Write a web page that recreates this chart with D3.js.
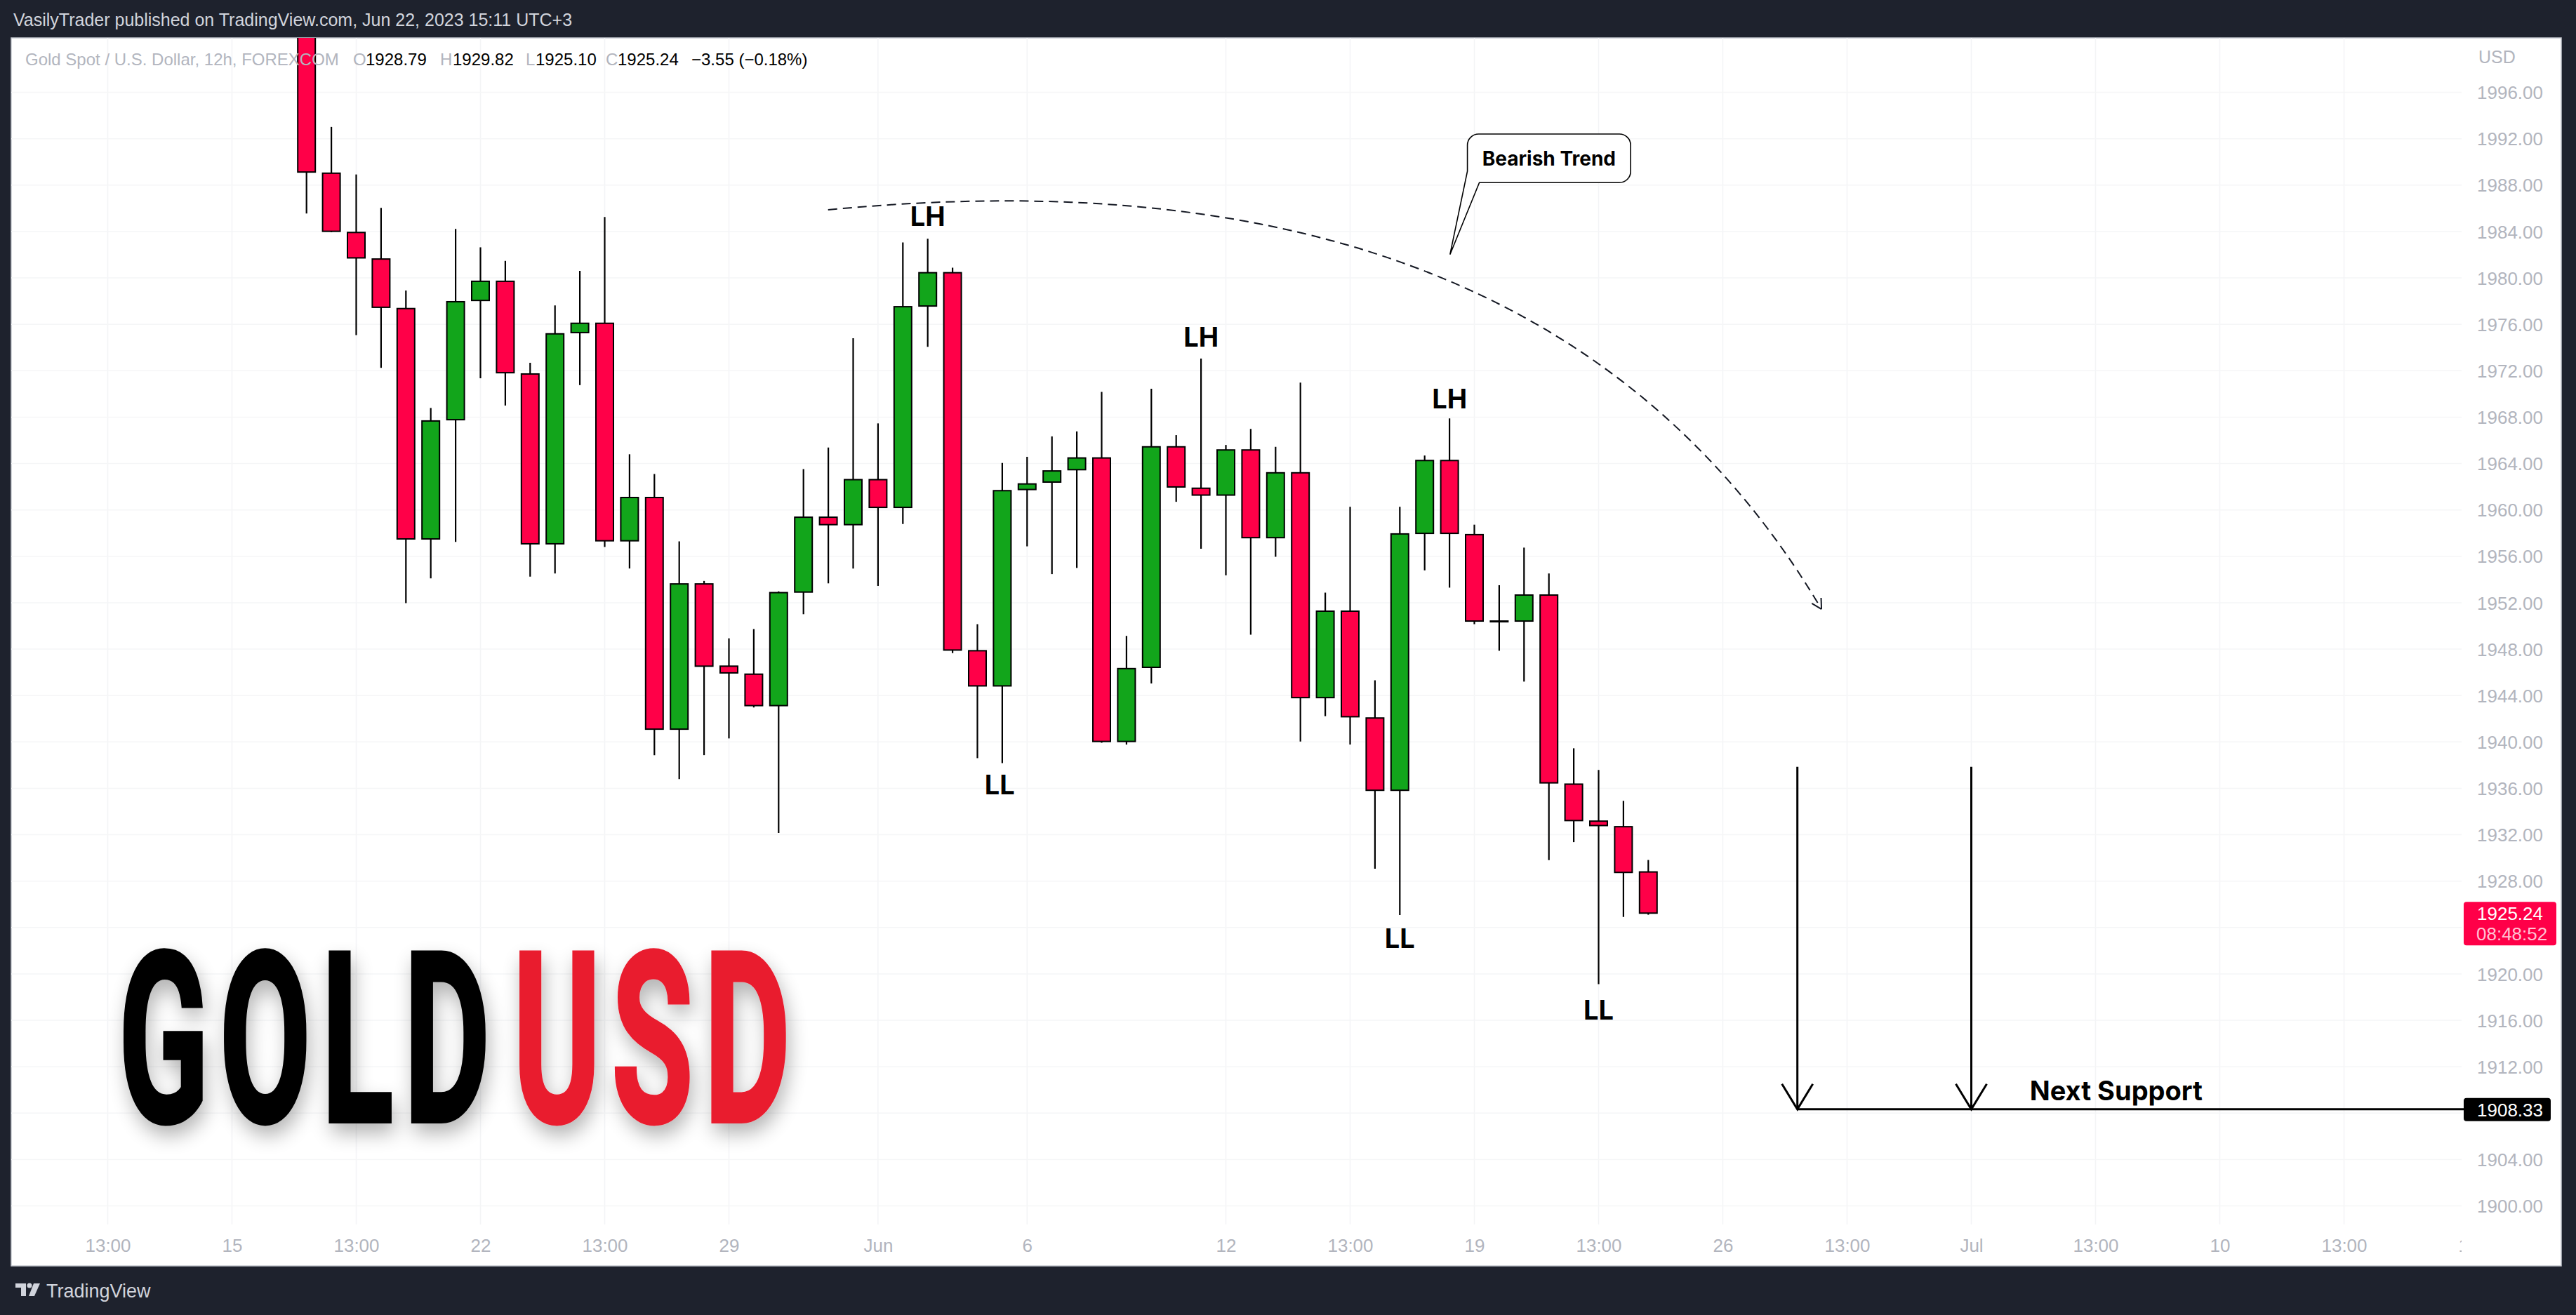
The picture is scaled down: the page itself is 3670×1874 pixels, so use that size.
<!DOCTYPE html>
<html><head><meta charset="utf-8">
<script src="https://cdn.jsdelivr.net/npm/d3@7"></script>
<style>html,body{margin:0;padding:0;background:#1e222d;overflow:hidden}svg{display:block}</style>
</head><body>
<svg id="c" width="3670" height="1874"></svg>
<script>
// ---------------- data ----------------
const firstBar = 3; // bar index of first visible candle (12h bars, index 0 = May 15 01:00)
const opens  = [2005.50,1989.03,1983.92,1981.63,1977.36,1957.50,1967.78,1978.06,1979.71,1971.72,1957.08,1975.29,1976.09,1957.34,1961.07,1941.10,1953.62,1946.53,1945.84,1943.13,1952.92,1959.37,1958.73,1962.61,1960.22,1977.58,1980.45,1947.86,1944.83,1961.76,1962.40,1963.47,1964.48,1940.04,1946.43,1965.44,1961.87,1961.28,1965.17,1957.61,1963.20,1943.82,1951.27,1942.06,1935.83,1957.98,1964.26,1957.87,1950.42,1950.42,1952.66,1936.36,1933.17,1932.69,1928.79];
const highs  = [2008.00,1993.02,1988.92,1986.04,1978.91,1968.79,1984.23,1982.64,1981.47,1972.68,1977.63,1980.61,1985.25,1964.80,1963.09,1957.29,1953.88,1948.93,1949.73,1952.98,1963.52,1965.38,1974.81,1967.46,1983.06,1983.38,1980.88,1950.15,1964.05,1964.58,1966.34,1966.77,1970.18,1949.14,1970.44,1966.45,1973.05,1965.60,1966.98,1965.44,1970.97,1952.87,1960.27,1945.31,1960.27,1964.69,1967.89,1958.73,1953.51,1956.75,1954.52,1939.45,1937.59,1934.92,1929.82];
const lows   = [1985.56,1983.95,1975.07,1972.25,1951.97,1954.10,1957.24,1971.35,1969.00,1954.25,1954.52,1970.76,1956.81,1954.95,1938.86,1936.79,1938.86,1940.30,1942.97,1932.15,1951.01,1953.67,1954.95,1953.45,1958.78,1974.06,1947.65,1938.60,1938.17,1956.86,1954.47,1955.00,1939.93,1939.77,1945.04,1960.70,1956.65,1954.36,1949.25,1955.96,1940.04,1942.22,1939.77,1929.07,1925.07,1954.79,1953.30,1950.15,1947.86,1945.20,1929.81,1931.36,1919.11,1924.91,1925.10];
const closes = [1989.13,1984.02,1981.73,1977.47,1957.50,1967.67,1977.95,1979.71,1971.83,1957.08,1975.18,1976.09,1957.34,1961.07,1941.10,1953.62,1946.53,1945.95,1943.13,1952.87,1959.37,1958.73,1962.61,1960.22,1977.52,1980.45,1947.92,1944.83,1961.66,1962.24,1963.36,1964.48,1940.04,1946.32,1965.44,1961.98,1961.28,1965.17,1957.61,1963.20,1943.82,1951.27,1942.17,1935.83,1957.93,1964.26,1957.98,1950.42,1950.42,1952.66,1936.47,1933.22,1932.79,1928.75,1925.24];

const timeTickIdx    = [-5, 0, 5, 10, 15, 20, 26, 32, 40, 45, 50, 55, 60, 65, 70, 75, 80, 85, 90];
const timeTickLabels = ["13:00","15","13:00","22","13:00","29","Jun","6","12","13:00","19","13:00","26","13:00","Jul","13:00","10","13:00","17"];
const priceTicks = d3.range(1900, 1997, 4);

const lastPrice = 1925.24, lastTimer = "08:48:52";
const supportPrice = 1908.33;

const headerText = "VasilyTrader published on TradingView.com, Jun 22, 2023 15:11 UTC+3";
const symbolText = "Gold Spot / U.S. Dollar, 12h, FOREXCOM";
const legendKeys = ["O","H","L","C"];
const legendValues = ["1928.79","1929.82","1925.10","1925.24"];
const legendChange = "\u22123.55 (\u22120.18%)";

// swing labels: [label, bar index, price]
const swingLabels = [["LH",28,1985.3],["LL",30.9,1936.3],["LH",39,1974.9],["LH",49,1969.6],["LL",47,1923.1],["LL",55,1916.9]];
// curve (bar index, price): start, control, end
const curvePts = [[23.99,1985.87],[52.81,1991.86],[63.97,1951.45]];
// callout box [i0,i1,pTop,pBottom], tail [[i,p]...]
const calloutBox = [49.72,56.29,1992.41,1988.22];
const calloutTail = [[49.73,1989.2],[49.02,1982.02],[50.2,1988.22]];
const calloutText = "Bearish Trend";
const arrowIdx = [63, 70];
const arrowTopPrice = 1937.85;
const supportText = ["Next Support", 75.83, 1909.95];
const watermark = [["GOLD", 169, 698, "#000000"], ["USD", 731, 1126, "#e91c2e"]];

// ---------------- layout ----------------
const W = 3670, H = 1874;
const paneL = 16, paneR = 3649, paneT = 54, paneB = 1804;
const chartR = 3507, chartB = 1745;
const red = "#ff0048", green = "#12a51b";

const svg = d3.select("#c");
const x = d3.scaleLinear().domain([0, 80]).range([330.5, 3162.5]);
const y = d3.scaleLinear().domain([1900, 1996]).range([1718.5, 131.6]);

svg.append("rect").attr("width", W).attr("height", H).attr("fill", "#1e222d");
svg.append("rect").attr("x", paneL).attr("y", paneT).attr("width", paneR - paneL).attr("height", paneB - paneT)
  .attr("fill", "#ffffff").attr("stroke", "#c4c7ce").attr("stroke-width", 1.5);

const defs = svg.append("defs");
defs.append("clipPath").attr("id", "clip").append("rect")
  .attr("x", paneL).attr("y", paneT).attr("width", chartR - paneL).attr("height", chartB - paneT);
defs.append("clipPath").attr("id", "clipT").append("rect")
  .attr("x", paneL).attr("y", chartB).attr("width", chartR - paneL).attr("height", paneB - chartB);
const f = defs.append("filter").attr("id", "shadow").attr("filterUnits", "userSpaceOnUse")
  .attr("x", 100).attr("y", 1280).attr("width", 1150).attr("height", 420);
f.append("feGaussianBlur").attr("in", "SourceAlpha").attr("stdDeviation", 14).attr("result", "b");
f.append("feOffset").attr("in", "b").attr("dx", 4).attr("dy", 14).attr("result", "o");
f.append("feComponentTransfer").attr("in", "o").attr("result", "o2").append("feFuncA").attr("type", "linear").attr("slope", 0.3);
const fm = f.append("feMerge"); fm.append("feMergeNode").attr("in", "o2"); fm.append("feMergeNode").attr("in", "SourceGraphic");

// grid
const grid = svg.append("g").attr("clip-path", "url(#clip)");
grid.selectAll("line.v").data(timeTickIdx).join("line").attr("class", "v")
  .attr("x1", d => x(d)).attr("x2", d => x(d)).attr("y1", paneT).attr("y2", chartB)
  .attr("stroke", "#f3f4f6").attr("stroke-width", 1.5);
grid.selectAll("line.h").data(priceTicks).join("line").attr("class", "h")
  .attr("x1", paneL).attr("x2", chartR).attr("y1", d => y(d)).attr("y2", d => y(d))
  .attr("stroke", "#f5f6f7").attr("stroke-width", 1.5);

// watermark GOLDUSD (condensed by horizontal scaling)
const wm = svg.append("g").attr("filter", "url(#shadow)");
const LS = 28;
watermark.forEach(([word, l, r, col]) => {
  const t = wm.append("text").attr("x", 0).attr("y", 0)
    .attr("font-family", "Roboto, 'Liberation Sans', sans-serif").attr("font-weight", 700)
    .attr("font-size", 338).attr("fill", col).attr("stroke", col).attr("stroke-width", 5)
    .attr("vector-effect", "non-scaling-stroke").attr("letter-spacing", LS).text(word);
  const bb = t.node().getBBox();
  const natural = bb.width - LS;
  const sx = (r - l) / natural;
  t.attr("transform", `translate(${l - bb.x * sx},1598) scale(${sx},1)`);
});

// candles
const bars = opens.map((o, k) => ({i: firstBar + k, o, h: highs[k], l: lows[k], c: closes[k]}));
const cg = svg.append("g").attr("clip-path", "url(#clip)");
const bw = 25;
cg.selectAll("line.wick").data(bars).join("line").attr("class", "wick")
  .attr("x1", d => x(d.i)).attr("x2", d => x(d.i))
  .attr("y1", d => y(d.h)).attr("y2", d => y(d.l))
  .attr("stroke", "#000").attr("stroke-width", 2.2);
cg.selectAll("rect.body").data(bars).join("rect").attr("class", "body")
  .attr("x", d => x(d.i) - bw / 2).attr("width", bw)
  .attr("y", d => y(Math.max(d.o, d.c))).attr("height", d => Math.max(1, Math.abs(y(d.o) - y(d.c))))
  .attr("fill", d => d.c >= d.o ? green : red).attr("stroke", "#000").attr("stroke-width", 2);

// annotations
const ann = svg.append("g").attr("clip-path", "url(#clip)");
const curve = d3.path();
curve.moveTo(x(curvePts[0][0]), y(curvePts[0][1]));
curve.quadraticCurveTo(x(curvePts[1][0]), y(curvePts[1][1]), x(curvePts[2][0]), y(curvePts[2][1]));
ann.append("path").attr("d", curve.toString()).attr("fill", "none")
  .attr("stroke", "#131722").attr("stroke-width", 2).attr("stroke-dasharray", "13 8");
{
  const ex = x(curvePts[2][0]), ey = y(curvePts[2][1]);
  const dx = ex - x(curvePts[1][0]), dy = ey - y(curvePts[1][1]);
  const a = Math.atan2(dy, dx), L = 16;
  [0.5, -0.5].forEach(s => {
    ann.append("line").attr("x1", ex).attr("y1", ey)
      .attr("x2", ex - L * Math.cos(a + s)).attr("y2", ey - L * Math.sin(a + s))
      .attr("stroke", "#131722").attr("stroke-width", 2);
  });
}
// callout
{
  const [i0, i1, pt, pb] = calloutBox;
  const bx0 = x(i0), bx1 = x(i1), by0 = y(pt), by1 = y(pb), r = 16;
  const t = calloutTail.map(([i, p]) => [x(i), y(p)]);
  const p = d3.path();
  p.moveTo(bx0 + r, by0);
  p.lineTo(bx1 - r, by0); p.arcTo(bx1, by0, bx1, by0 + r, r);
  p.lineTo(bx1, by1 - r); p.arcTo(bx1, by1, bx1 - r, by1, r);
  p.lineTo(t[2][0], by1); p.lineTo(t[1][0], t[1][1]); p.lineTo(bx0, t[0][1]);
  p.lineTo(bx0, by0 + r); p.arcTo(bx0, by0, bx0 + r, by0, r); p.closePath();
  ann.append("path").attr("d", p.toString()).attr("fill", "#fff").attr("stroke", "#000").attr("stroke-width", 1.6);
  ann.append("text").attr("x", (bx0 + bx1) / 2).attr("y", (by0 + by1) / 2 + 10)
    .attr("text-anchor", "middle").attr("font-family", "Inter, 'Liberation Sans', sans-serif")
    .attr("font-weight", 700).attr("font-size", 28).attr("fill", "#000").text(calloutText);
}
// swing labels
ann.selectAll("text.sw").data(swingLabels).join("text").attr("class", "sw")
  .attr("x", d => x(d[1])).attr("y", d => y(d[2]) + 14)
  .attr("text-anchor", "middle").attr("font-family", "Inter, 'Liberation Sans', sans-serif")
  .attr("font-weight", 700).attr("font-size", 38).attr("fill", "#000").text(d => d[0]);
// vertical arrows
arrowIdx.forEach(i => {
  const ax = x(i), y0 = y(arrowTopPrice), y1 = y(supportPrice);
  ann.append("line").attr("x1", ax).attr("x2", ax).attr("y1", y0).attr("y2", y1).attr("stroke", "#000").attr("stroke-width", 3);
  ann.append("path").attr("d", `M${ax - 22},${y1 - 36}L${ax},${y1}L${ax + 22},${y1 - 36}`)
    .attr("fill", "none").attr("stroke", "#000").attr("stroke-width", 3);
});
// support line
svg.append("line").attr("x1", x(arrowIdx[0])).attr("x2", 3510).attr("y1", y(supportPrice)).attr("y2", y(supportPrice))
  .attr("stroke", "#000").attr("stroke-width", 3);
ann.append("text").attr("x", x(supportText[1])).attr("y", y(supportText[2]) + 14)
  .attr("text-anchor", "middle").attr("font-family", "Inter, 'Liberation Sans', sans-serif")
  .attr("font-weight", 700).attr("font-size", 38).attr("fill", "#000").text(supportText[0]);

// price axis
const boxes = [lastPrice, supportPrice];
const pa = svg.append("g").attr("transform", `translate(3529,0)`)
  .call(d3.axisRight(y).tickValues(priceTicks.filter(v => boxes.every(b => Math.abs(y(v) - y(b)) > 30)))
    .tickFormat(d3.format(".2f")).tickSize(0).tickPadding(0));
pa.select(".domain").remove();
pa.selectAll("text").attr("font-family", "'Liberation Sans', Arial, sans-serif").attr("font-size", 26)
  .attr("fill", "#b2b5be").attr("dy", "0.35em");
svg.append("text").attr("x", 3531).attr("y", 90).attr("font-family", "'Liberation Sans', Arial, sans-serif")
  .attr("font-size", 25).attr("fill", "#b2b5be").text("USD");
// last price label
{
  const cy = y(lastPrice);
  svg.append("rect").attr("x", 3510).attr("y", cy - 16).attr("width", 132).attr("height", 62).attr("rx", 4).attr("fill", red);
  svg.append("text").attr("x", 3529).attr("y", cy + 10).attr("font-family", "'Liberation Sans', Arial, sans-serif")
    .attr("font-size", 26).attr("fill", "#fff").text(lastPrice.toFixed(2));
  svg.append("text").attr("x", 3528).attr("y", cy + 39).attr("font-family", "'Liberation Sans', Arial, sans-serif")
    .attr("font-size", 26).attr("fill", "#ffc2d3").text(lastTimer);
  const sy = y(supportPrice);
  svg.append("rect").attr("x", 3510).attr("y", sy - 16).attr("width", 124).attr("height", 33).attr("rx", 4).attr("fill", "#000");
  svg.append("text").attr("x", 3529).attr("y", sy + 10).attr("font-family", "'Liberation Sans', Arial, sans-serif")
    .attr("font-size", 26).attr("fill", "#fff").text(supportPrice.toFixed(2));
}

// time axis
const ta = svg.append("g").attr("clip-path", "url(#clipT)").append("g").attr("transform", `translate(0,1766)`)
  .call(d3.axisBottom(x).tickValues(timeTickIdx).tickFormat((d, k) => timeTickLabels[k]).tickSize(0).tickPadding(0));
ta.select(".domain").remove();
ta.selectAll("text").attr("font-family", "'Liberation Sans', Arial, sans-serif").attr("font-size", 26)
  .attr("fill", "#b2b5be").attr("dy", "0.71em").attr("y", 0);

// header & legend
svg.append("text").attr("x", 19).attr("y", 37).attr("font-family", "'Liberation Sans', Arial, sans-serif")
  .attr("font-size", 25).attr("fill", "#d1d4dc").text(headerText);
const lg = svg.append("text").attr("y", 93).attr("font-family", "'Liberation Sans', Arial, sans-serif").attr("font-size", 24);
lg.append("tspan").attr("x", 36).attr("fill", "#b2b5be").text(symbolText);
const keyX = [503, 627, 749, 863], valX = [521, 645, 763, 880];
legendKeys.forEach((k, j) => {
  lg.append("tspan").attr("x", keyX[j]).attr("fill", "#b2b5be").text(k);
  lg.append("tspan").attr("x", valX[j]).attr("fill", "#000").text(legendValues[j]);
});
lg.append("tspan").attr("x", 985).attr("fill", "#000").text(legendChange);

// footer logo
const fg = svg.append("g").attr("fill", "#d1d4dc");
fg.append("path").attr("d", "M22,1829h15v18h-7v-12h-8z");
fg.append("circle").attr("cx", 42).attr("cy", 1832).attr("r", 3.5);
fg.append("path").attr("d", "M48,1829h9l-8,18h-8z");
fg.append("text").attr("x", 66).attr("y", 1849).attr("font-family", "'Liberation Sans', Arial, sans-serif")
  .attr("font-size", 27).attr("fill", "#d1d4dc").text("TradingView");
</script>
</body></html>
